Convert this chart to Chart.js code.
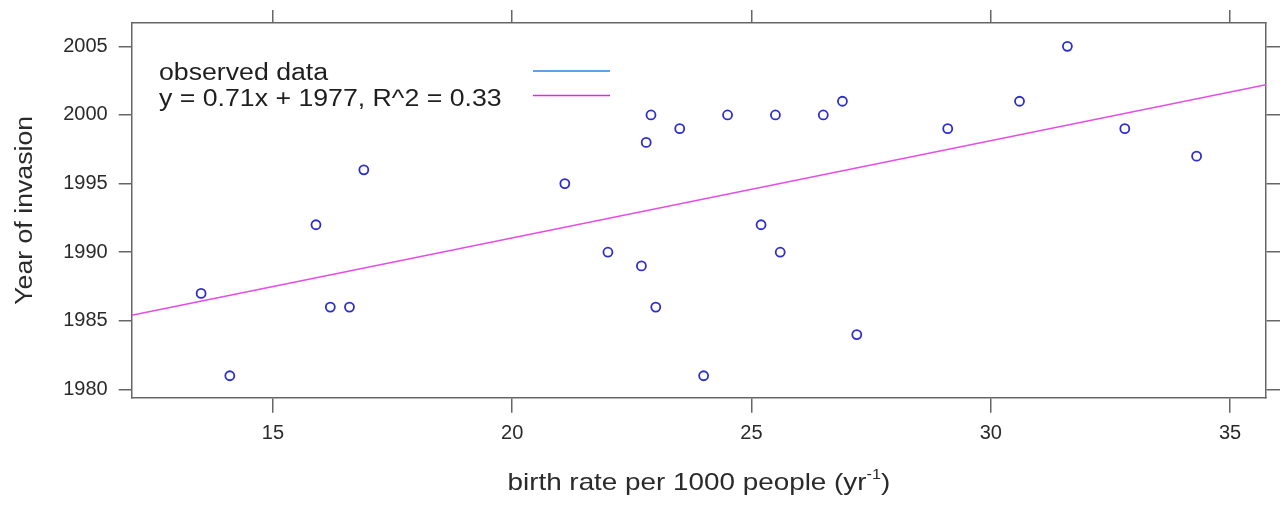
<!DOCTYPE html>
<html>
<head>
<meta charset="utf-8">
<script src="https://cdn.jsdelivr.net/npm/chart.js@4.4.1/dist/chart.umd.min.js"></script>
<style>
  html, body { margin: 0; padding: 0; background: #fff; }
  #wrap { width: 1286px; height: 506px; }
</style>
</head>
<body>
<div id="wrap"><canvas id="chart" width="1286" height="506"></canvas></div>
<script>
// values
const birthRate = [13.5, 14.1, 15.9, 16.2, 16.6, 16.9, 21.1, 22.0, 22.7, 22.8, 22.9, 23.0, 23.5,
  24.0, 24.5, 25.2, 25.5, 25.6, 26.5, 26.9, 27.2, 29.1, 30.6, 31.6, 32.8, 34.3];
const invasionYear = [1987, 1981, 1992, 1986, 1986, 1996, 1995, 1990, 1989, 1998, 2000, 1986, 1999,
  1981, 2000, 1992, 2000, 1990, 2000, 2001, 1984, 1999, 2001, 2005, 1999, 1997];
const fitX = [12.05, 35.75];
const fitY = [1985.4, 2002.2];
const xTicks = [15, 20, 25, 30, 35];
const yTicks = [1980, 1985, 1990, 1995, 2000, 2005];
const legendLabels = ['observed data', 'y = 0.71x + 1977, R^2 = 0.33'];
const legendColors = ['#2f80e0', '#f020f0'];

const FONT = '"Liberation Sans", Arial, sans-serif';
const STRETCH = 1.16;
const AXIS_COLOR = '#666';

function stretchedText(ctx, text, x, y, align) {
  ctx.save();
  ctx.translate(x, y);
  ctx.scale(STRETCH, 1);
  ctx.textAlign = align;
  ctx.fillText(text, 0, 0);
  ctx.restore();
}

const textPlugin = {
  id: 'textPlugin',
  afterDraw(chart) {
    const ctx = chart.ctx;
    const area = chart.chartArea;
    ctx.save();
    ctx.textBaseline = 'alphabetic';

    // legend (text on the left, line sample on the right)
    ctx.fillStyle = '#1e1e1e';
    ctx.font = '23px ' + FONT;
    stretchedText(ctx, legendLabels[0], 159, 80, 'left');
    stretchedText(ctx, legendLabels[1], 159, 106, 'left');
    ctx.lineWidth = 1.5;
    [71, 95.5].forEach((y, i) => {
      ctx.strokeStyle = legendColors[i];
      ctx.beginPath();
      ctx.moveTo(533, y);
      ctx.lineTo(610, y);
      ctx.stroke();
    });

    // x axis title with superscript
    ctx.fillStyle = '#2a2a2a';
    const main = 'birth rate per 1000 people (yr';
    const sup = '-1';
    const close = ')';
    ctx.font = '24px ' + FONT;
    const wMain = ctx.measureText(main).width * STRETCH;
    const wClose = ctx.measureText(close).width * STRETCH;
    ctx.font = '14px ' + FONT;
    const wSup = ctx.measureText(sup).width * STRETCH;
    const total = wMain + wSup + wClose;
    const x = (area.left + area.right) / 2 - total / 2;
    const base = 490;
    ctx.font = '24px ' + FONT;
    stretchedText(ctx, main, x, base, 'left');
    ctx.font = '14px ' + FONT;
    stretchedText(ctx, sup, x + wMain, base - 11, 'left');
    ctx.font = '24px ' + FONT;
    stretchedText(ctx, close, x + wMain + wSup, base, 'left');

    // y axis title
    ctx.save();
    ctx.translate(32, (area.top + area.bottom) / 2);
    ctx.rotate(-Math.PI / 2);
    ctx.scale(STRETCH, 1);
    ctx.font = '23px ' + FONT;
    ctx.textAlign = 'center';
    ctx.fillText('Year of invasion', 0, 0);
    ctx.restore();

    ctx.restore();
  }
};

function tickOnlyGrid(len) {
  return {
    drawOnChartArea: false,
    drawTicks: true,
    tickLength: len,
    color: AXIS_COLOR,
    lineWidth: 1.5
  };
}

const border = { display: true, color: AXIS_COLOR, width: 1.5 };
const plainLabel = v => String(v);

new Chart(document.getElementById('chart'), {
  data: {
    datasets: [
      {
        type: 'scatter',
        label: legendLabels[0],
        data: birthRate.map((b, i) => ({ x: b, y: invasionYear[i] })),
        pointStyle: 'circle',
        pointRadius: 4.5,
        pointBorderWidth: 1.8,
        pointBorderColor: '#2e2ecc',
        pointBackgroundColor: 'rgba(0,0,0,0)',
        xAxisID: 'x',
        yAxisID: 'y'
      },
      {
        type: 'line',
        label: legendLabels[1],
        data: fitX.map((v, i) => ({ x: v, y: fitY[i] })),
        borderColor: '#e64ce6',
        borderWidth: 1.5,
        pointRadius: 0,
        fill: false,
        xAxisID: 'x',
        yAxisID: 'y'
      }
    ]
  },
  options: {
    responsive: false,
    animation: false,
    devicePixelRatio: 1,
    layout: { padding: 0 },
    plugins: {
      legend: { display: false },
      tooltip: { enabled: false }
    },
    scales: {
      x: {
        type: 'linear',
        position: 'bottom',
        min: 12.05,
        max: 35.75,
        afterBuildTicks: s => { s.ticks = xTicks.map(v => ({ value: v })); },
        afterFit: s => { s.height = 108.3; },
        grid: tickOnlyGrid(15),
        border: border,
        ticks: {
          font: { family: FONT, size: 20 },
          color: '#2a2a2a',
          padding: 9,
          maxRotation: 0,
          autoSkip: false,
          callback: plainLabel
        }
      },
      x2: {
        type: 'linear',
        position: 'top',
        min: 12.05,
        max: 35.75,
        afterBuildTicks: s => { s.ticks = xTicks.map(v => ({ value: v })); },
        afterFit: s => { s.height = 20; },
        grid: tickOnlyGrid(13),
        border: border,
        ticks: { display: false }
      },
      y: {
        type: 'linear',
        position: 'left',
        min: 1979.4,
        max: 2006.7,
        afterBuildTicks: s => { s.ticks = yTicks.map(v => ({ value: v })); },
        afterFit: s => { s.width = 131.7; },
        grid: tickOnlyGrid(13),
        border: border,
        ticks: {
          font: { family: FONT, size: 20 },
          color: '#2a2a2a',
          padding: 11,
          autoSkip: false,
          callback: plainLabel
        }
      },
      y2: {
        type: 'linear',
        position: 'right',
        min: 1979.4,
        max: 2006.7,
        afterBuildTicks: s => { s.ticks = yTicks.map(v => ({ value: v })); },
        afterFit: s => { s.width = 20; },
        grid: tickOnlyGrid(14),
        border: border,
        ticks: { display: false }
      }
    }
  },
  plugins: [textPlugin]
});
</script>
</body>
</html>
